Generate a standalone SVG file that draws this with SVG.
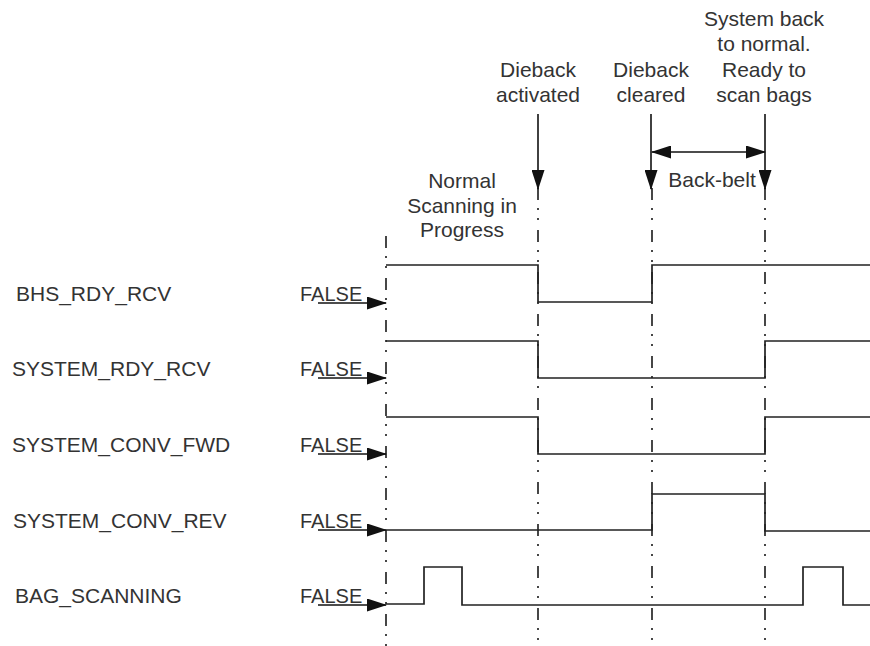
<svg xmlns="http://www.w3.org/2000/svg" width="870" height="646" viewBox="0 0 870 646">
<style>
text{font-family:"Liberation Sans",Arial,sans-serif;fill:#333;}
.lbl{font-size:21px;}
.top{font-size:21px;text-anchor:middle;}
.f{font-size:20px;}
.sig{fill:none;stroke:#222;stroke-width:1.7;}
.dd{fill:none;stroke:#333;stroke-width:1.8;stroke-dasharray:12 8 2 8 2 10;}
.arr{fill:none;stroke:#111;stroke-width:1.6;}
</style>
<defs>
<marker id="ah" markerUnits="userSpaceOnUse" markerWidth="20" markerHeight="13" refX="19" refY="6.5" orient="auto-start-reverse" viewBox="0 0 20 13">
<path d="M0,0 L20,6.5 L0,13 z" fill="#111"/>
</marker>
</defs>
<g id="time-markers">
<line class="dd" x1="386" y1="236" x2="386" y2="646"/>
<line class="dd" x1="538" y1="188" x2="538" y2="646"/>
<line class="dd" x1="652" y1="188" x2="652" y2="646"/>
<line class="dd" x1="765" y1="188" x2="765" y2="646"/>
</g>
<g id="event-dieback-activated">
<text class="top" x="538" y="77">Dieback</text>
<text class="top" x="538" y="102">activated</text>
</g>
<g id="event-dieback-cleared">
<text class="top" x="651" y="77">Dieback</text>
<text class="top" x="651" y="102">cleared</text>
</g>
<g id="event-system-normal">
<text class="top" x="764" y="26">System back</text>
<text class="top" x="764" y="51">to normal.</text>
<text class="top" x="764" y="77">Ready to</text>
<text class="top" x="764" y="102">scan bags</text>
</g>
<g id="normal-scanning">
<text class="top" x="462" y="188">Normal</text>
<text class="top" x="462" y="213">Scanning in</text>
<text class="top" x="462" y="237">Progress</text>
</g>
<g id="back-belt">
<text class="top" x="712" y="187">Back-belt</text>
</g>
<g id="connectors">
<line class="arr" x1="538" y1="114" x2="538" y2="189" marker-end="url(#ah)"/>
<line class="arr" x1="651" y1="114" x2="651" y2="189" marker-end="url(#ah)"/>
<line class="arr" x1="765" y1="114" x2="765" y2="189" marker-end="url(#ah)"/>
<line class="arr" x1="652" y1="152" x2="765" y2="152" marker-start="url(#ah)" marker-end="url(#ah)"/>
<line class="arr" x1="318" y1="303" x2="386" y2="303" marker-end="url(#ah)"/>
<line class="arr" x1="318" y1="378" x2="386" y2="378" marker-end="url(#ah)"/>
<line class="arr" x1="318" y1="454" x2="386" y2="454" marker-end="url(#ah)"/>
<line class="arr" x1="318" y1="530" x2="386" y2="530" marker-end="url(#ah)"/>
<line class="arr" x1="318" y1="605" x2="386" y2="605" marker-end="url(#ah)"/>
</g>
<g id="sig-bhs-rdy-rcv">
<text class="lbl" x="16" y="301">BHS_RDY_RCV</text>
<text class="f" x="300" y="301">FALSE</text>
<path class="sig" d="M386,265 H538 V302 H652 V265 H870"/>
</g>
<g id="sig-system-rdy-rcv">
<text class="lbl" x="12" y="376">SYSTEM_RDY_RCV</text>
<text class="f" x="300" y="376">FALSE</text>
<path class="sig" d="M386,341 H538 V378 H765 V341 H870"/>
</g>
<g id="sig-system-conv-fwd">
<text class="lbl" x="12" y="452">SYSTEM_CONV_FWD</text>
<text class="f" x="300" y="452">FALSE</text>
<path class="sig" d="M386,417 H538 V454 H765 V417 H870"/>
</g>
<g id="sig-system-conv-rev">
<text class="lbl" x="13" y="528">SYSTEM_CONV_REV</text>
<text class="f" x="300" y="528">FALSE</text>
<path class="sig" d="M386,530 H652 V494 H765 V531 H870"/>
</g>
<g id="sig-bag-scanning">
<text class="lbl" x="15" y="603">BAG_SCANNING</text>
<text class="f" x="300" y="603">FALSE</text>
<path class="sig" d="M386,604 H424 V567 H462 V605 H803 V567 H843 V605 H870"/>
</g>
</svg>
